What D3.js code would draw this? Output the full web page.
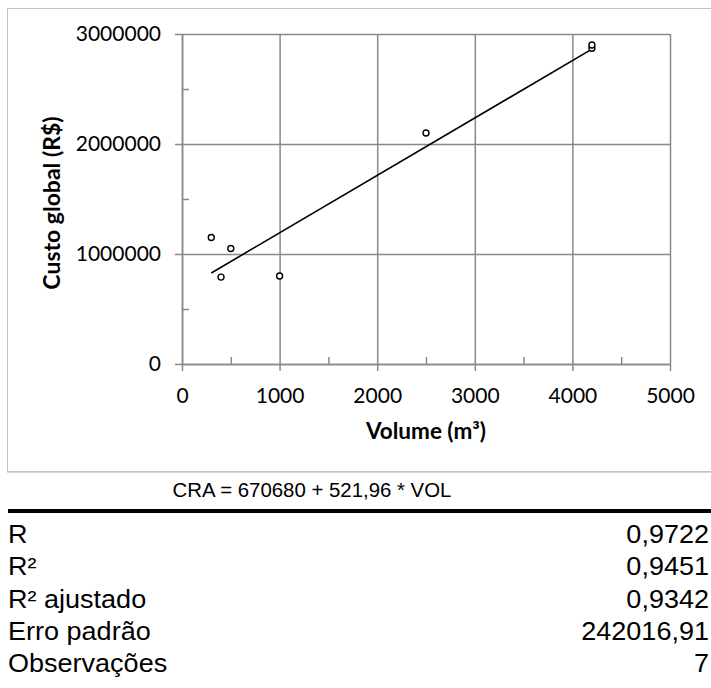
<!DOCTYPE html>
<html>
<head>
<meta charset="utf-8">
<script src="https://cdn.jsdelivr.net/npm/d3@7"></script>
<style>
  body { margin: 0; background: #fff; }
  svg { display: block; }
</style>
</head>
<body>
<div id="chart"></div>
<script>
// observed points (volume m3, global cost R$)
var volumes = [300, 400, 500, 1000, 2500, 4200, 4200];
var costs = [1150000, 790000, 1050000, 800000, 2100000, 2870000, 2900000];

var xTicks = [0, 1000, 2000, 3000, 4000, 5000];
var yTicks = [0, 1000000, 2000000, 3000000];
var xMinorTicks = [500, 1500, 2500, 3500, 4500];
var yMinorTicks = [500000, 1500000, 2500000];

// regression summary
var intercept = 670680;
var slope = 521.96;
var equationText = "CRA = 670680 + 521,96 * VOL";
var statLabels = ["R", "R²", "R² ajustado", "Erro padrão", "Observações"];
var statValues = ["0,9722", "0,9451", "0,9342", "242016,91", "7"];

var W = 711, H = 688;
var svg = d3.select("#chart").append("svg")
  .attr("width", W)
  .attr("height", H);

// chart frame
svg.append("rect")
  .attr("x", 7.5).attr("y", 8.5)
  .attr("width", 740).attr("height", 463)
  .attr("fill", "none")
  .attr("stroke", "#c4c4c4")
  .attr("stroke-width", 1);
svg.append("line")
  .attr("x1", 7).attr("x2", W).attr("y1", 472.5).attr("y2", 472.5)
  .attr("stroke", "#d8d8d8").attr("stroke-width", 1);

var margin = { left: 182, top: 34 };
var width = 488, height = 330;
var g = svg.append("g").attr("transform", "translate(" + margin.left + "," + margin.top + ")");

var x = d3.scaleLinear().domain([0, 5000]).range([0, width]);
var y = d3.scaleLinear().domain([0, 3000000]).range([height, 0]);

var gridColor = "#898989";
var tickFont = "Lato, 'Open Sans', sans-serif";

// gridlines
g.append("g")
  .attr("class", "grid x")
  .call(d3.axisBottom(x).tickValues(xTicks).tickSize(height).tickFormat(""))
  .call(function (s) { s.select(".domain").remove(); });
g.append("g")
  .attr("class", "grid y")
  .call(d3.axisLeft(y).tickValues(yTicks).tickSize(-width).tickFormat(""))
  .call(function (s) { s.select(".domain").remove(); });
g.selectAll(".grid line").attr("stroke", gridColor).attr("stroke-width", 1.5);

// minor ticks (inside)
g.append("g")
  .attr("class", "minor")
  .attr("transform", "translate(0," + height + ")")
  .call(d3.axisBottom(x).tickValues(xMinorTicks).tickSize(-7).tickFormat(""))
  .call(function (s) { s.select(".domain").remove(); });
g.append("g")
  .attr("class", "minor")
  .call(d3.axisLeft(y).tickValues(yMinorTicks).tickSize(-7).tickFormat(""))
  .call(function (s) { s.select(".domain").remove(); });
g.selectAll(".minor line").attr("stroke", gridColor).attr("stroke-width", 1.5);

// main axes
g.append("g")
  .attr("class", "x axis")
  .attr("transform", "translate(0," + height + ")")
  .call(d3.axisBottom(x).tickValues(xTicks).tickSizeInner(7).tickSizeOuter(0).tickPadding(17).tickFormat(d3.format("d")));
g.append("g")
  .attr("class", "y axis")
  .call(d3.axisLeft(y).tickValues(yTicks).tickSizeInner(7).tickSizeOuter(0).tickPadding(14).tickFormat(d3.format("d")));

g.selectAll(".axis .domain").attr("stroke", gridColor).attr("stroke-width", 1.5);
g.selectAll(".axis line").attr("stroke", gridColor).attr("stroke-width", 1.5);
g.selectAll(".axis text")
  .attr("fill", "#000")
  .style("font-family", tickFont)
  .style("font-size", "21px");

// axis titles
svg.append("text")
  .attr("x", margin.left + width / 2)
  .attr("y", 439)
  .attr("text-anchor", "middle")
  .style("font-family", tickFont)
  .style("font-size", "22.5px")
  .style("font-weight", "bold")
  .text("Volume (m³)");

svg.append("text")
  .attr("transform", "translate(60," + (margin.top + height / 2 + 4) + ") rotate(-90)")
  .attr("text-anchor", "middle")
  .style("font-family", tickFont)
  .style("font-size", "23px")
  .style("font-weight", "bold")
  .text("Custo global (R$)");

// trend line over the observed range
var xMin = d3.min(volumes), xMax = d3.max(volumes);
var trend = [xMin, xMax].map(function (v) { return [v, intercept + slope * v]; });
g.append("path")
  .datum(trend)
  .attr("fill", "none")
  .attr("stroke", "#000")
  .attr("stroke-width", 1.6)
  .attr("d", d3.line().x(function (d) { return x(d[0]); }).y(function (d) { return y(d[1]); }));

// data points
g.append("g")
  .selectAll("circle")
  .data(volumes)
  .enter().append("circle")
  .attr("cx", function (d) { return x(d); })
  .attr("cy", function (d, i) { return y(costs[i]); })
  .attr("r", 3)
  .attr("fill", "#fff")
  .attr("stroke", "#000")
  .attr("stroke-width", 1.4);

// summary table
var tableFont = "'Liberation Sans', Arial, sans-serif";
var stretch = 1.06;
svg.append("text")
  .attr("transform", "translate(312,497) scale(1.02,1)")
  .attr("text-anchor", "middle")
  .style("font-family", tableFont)
  .style("font-size", "20px")
  .text(equationText);

svg.append("line")
  .attr("x1", 8).attr("x2", W)
  .attr("y1", 511).attr("y2", 511)
  .attr("stroke", "#000")
  .attr("stroke-width", 4);

var rowY = d3.scalePoint().domain(statLabels).range([543, 672]);
var rows = svg.append("g").selectAll("g")
  .data(statLabels)
  .enter().append("g");
rows.append("text")
  .attr("transform", function (d) { return "translate(8," + rowY(d) + ") scale(" + stretch + ",1)"; })
  .style("font-family", tableFont)
  .style("font-size", "25.5px")
  .text(function (d) { return d; });
rows.append("text")
  .attr("transform", function (d) { return "translate(709," + rowY(d) + ") scale(" + stretch + ",1)"; })
  .attr("text-anchor", "end")
  .style("font-family", tableFont)
  .style("font-size", "25.5px")
  .text(function (d, i) { return statValues[i]; });
</script>
</body>
</html>
